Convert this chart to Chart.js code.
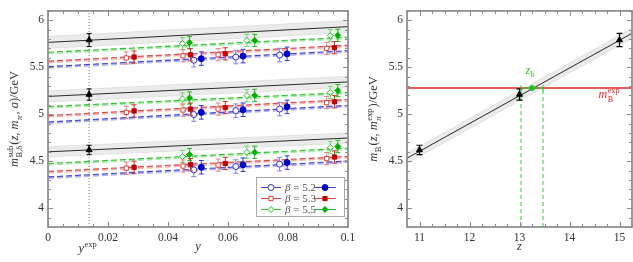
<!DOCTYPE html>
<html>
<head>
<meta charset="utf-8">
<script src="https://cdn.jsdelivr.net/npm/chart.js@4.4.0/dist/chart.umd.min.js"></script>
<style>
html, body { margin: 0; padding: 0; background: #fff; }
#wrap { position: relative; width: 633px; height: 262px; }
#leftBox { position: absolute; left: 0; top: 0; width: 362px; height: 262px; }
#rightBox { position: absolute; left: 355px; top: 0; width: 278px; height: 262px; }
</style>
</head>
<body>
<div id="wrap">
  <div id="leftBox"><canvas id="leftChart"></canvas></div>
  <div id="rightBox"><canvas id="rightChart"></canvas></div>
</div>
<script>
// ---- values ----
const zValues = [11, 13, 15];
const yExp = 0.0137;
const yRange = [3.8, 6.1];
const yTicks = [4, 4.5, 5, 5.5, 6];
const xTicksLeft = [0, 0.02, 0.04, 0.06, 0.08, 0.1];
const xTicksRight = [11, 12, 13, 14, 15];

// physical point (black triangles), one per z
const mPhys = [4.62, 5.21, 5.79];
const errPhys = [0.05, 0.06, 0.07];

// continuum lines: value at y = 0 and y = 0.1, per z
const yEnds = [0, 0.1];
const fitCont = [[4.600, 4.747], [5.190, 5.344], [5.765, 5.932]];
const bandCont = [0.055, 0.06, 0.065];

// beta = 5.2
const yB52open = [0.0486, 0.0626, 0.0772];
const yB52fill = [0.0511, 0.0650, 0.0797];
const mB52open = [[4.408, 4.443, 4.469], [4.997, 5.038, 5.055], [5.575, 5.609, 5.630]];
const mB52fill = [[4.436, 4.463, 4.486], [5.020, 5.048, 5.079], [5.592, 5.619, 5.643]];
const fitB52 = [[4.333, 4.503], [4.918, 5.096], [5.507, 5.677]];
const errB52 = 0.072;

// beta = 5.3
const yB53open = [0.0261, 0.0450, 0.0567, 0.0929];
const yB53fill = [0.0287, 0.0475, 0.0591, 0.0955];
const mB53open = [[4.426, 4.449, 4.459, 4.528], [5.020, 5.045, 5.055, 5.123], [5.599, 5.622, 5.633, 5.700]];
const mB53fill = [[4.436, 4.463, 4.476, 4.545], [5.035, 5.055, 5.071, 5.133], [5.609, 5.633, 5.643, 5.708]];
const fitB53 = [[4.392, 4.551], [4.987, 5.157], [5.565, 5.735]];
const errB53 = 0.065;

// beta = 5.5
const yB55open = [0.0448, 0.0663, 0.0941];
const yB55fill = [0.0472, 0.0689, 0.0966];
const mB55open = [[4.551, 4.596, 4.647], [5.163, 5.198, 5.232], [5.752, 5.786, 5.837]];
const mB55fill = [[4.571, 4.596, 4.657], [5.173, 5.201, 5.252], [5.762, 5.786, 5.840]];
const fitB55 = [[4.476, 4.640], [5.082, 5.232], [5.660, 5.820]];
const errB55 = 0.065;
const bandBeta = 0.012;

// right panel: interpolation in z
const zFitEnds = [10.75, 15.25];
const mFitEnds = [4.532, 5.861];
const bandFit = 0.055;
const mBexp = 5.279;
const zb = 13.25;
const zbRange = [13.03, 13.47];

// ---- helpers ----
const FONT = '"Liberation Serif", "DejaVu Serif", serif';
const font = (sz, it) => (it ? 'italic ' : '') + sz + 'px ' + FONT;

function line(xs, ys, color, width, dash, order) {
    return {
        data: xs.map((x, i) => ({ x: x, y: ys[i] })),
        showLine: true, borderColor: color, borderWidth: width,
        borderDash: dash || [], pointRadius: 0, fill: false, order: order
    };
}

function points(xs, ys, style, fillCol, edgeCol, err, errCol, order, radius) {
    return {
        data: xs.map((x, i) => ({ x: x, y: ys[i] })),
        showLine: false, pointStyle: style, pointRadius: radius || 3,
        pointBackgroundColor: fillCol, pointBorderColor: edgeCol, pointBorderWidth: 1,
        err: err, errColor: errCol, order: order
    };
}

function runRich(ctx, parts, x, y, size, draw) {
    let cx = x;
    const ss = size * 0.68;
    for (const p of parts) {
        if (p.t !== undefined) {
            ctx.font = font(size, p.i);
            if (draw) ctx.fillText(p.t, cx, y);
            cx += ctx.measureText(p.t).width;
        } else {
            let w = 0;
            if (p.sup) {
                ctx.font = font(ss, false);
                if (draw) ctx.fillText(p.sup, cx + 0.5, y - size * 0.42);
                w = Math.max(w, ctx.measureText(p.sup).width);
            }
            if (p.sub) {
                ctx.font = font(ss, p.subI);
                if (draw) ctx.fillText(p.sub, cx + 0.5, y + size * 0.28);
                w = Math.max(w, ctx.measureText(p.sub).width);
            }
            cx += w + 1.5;
        }
    }
    return cx - x;
}

function richCentered(ctx, parts, cx, y, size, color) {
    ctx.fillStyle = color;
    ctx.textAlign = 'left';
    ctx.textBaseline = 'alphabetic';
    const w = runRich(ctx, parts, 0, 0, size, false);
    runRich(ctx, parts, cx - w / 2, y, size, true);
}

// error bars, drawn under each dataset's markers
const errorBars = {
    id: 'errorBars',
    beforeDatasetDraw(chart, args) {
        const ds = chart.data.datasets[args.index];
        if (ds.err === undefined && ds.xerr === undefined) return;
        const { ctx, scales: { x, y } } = chart;
        ctx.save();
        ctx.strokeStyle = ds.errColor;
        ctx.lineWidth = 1;
        ds.data.forEach(p => {
            const px = x.getPixelForValue(p.x), py = y.getPixelForValue(p.y);
            ctx.beginPath();
            if (ds.err !== undefined) {
                const y1 = y.getPixelForValue(p.y - ds.err), y2 = y.getPixelForValue(p.y + ds.err);
                ctx.moveTo(px, y1); ctx.lineTo(px, y2);
                ctx.moveTo(px - 2.5, y1); ctx.lineTo(px + 2.5, y1);
                ctx.moveTo(px - 2.5, y2); ctx.lineTo(px + 2.5, y2);
            }
            if (ds.xerr !== undefined) {
                const x1 = x.getPixelForValue(ds.xerr[0]), x2 = x.getPixelForValue(ds.xerr[1]);
                ctx.moveTo(x1, py); ctx.lineTo(x2, py);
                ctx.moveTo(x1, py - 3); ctx.lineTo(x1, py + 3);
                ctx.moveTo(x2, py - 3); ctx.lineTo(x2, py + 3);
            }
            ctx.stroke();
        });
        ctx.restore();
    }
};

// grey frame with inward major and minor ticks on all sides
function framePlugin(minorX, minorY) {
    return {
        id: 'frame',
        afterDraw(chart) {
            const { ctx, chartArea: a, scales: { x, y } } = chart;
            ctx.save();
            ctx.strokeStyle = '#8c8c8c';
            ctx.lineWidth = 1;
            const isMajor = (scale, v) => scale.ticks.some(t => Math.abs(t.value - v) < 1e-9);
            ctx.beginPath();
            for (let n = Math.ceil(x.min / minorX - 1e-9); n * minorX <= x.max + 1e-9; n++) {
                const v = n * minorX, px = Math.round(x.getPixelForValue(v)) + 0.5;
                const len = isMajor(x, +v.toFixed(6)) ? 5 : 3;
                ctx.moveTo(px, a.bottom); ctx.lineTo(px, a.bottom - len);
                ctx.moveTo(px, a.top); ctx.lineTo(px, a.top + len);
            }
            for (let n = Math.ceil(y.min / minorY - 1e-9); n * minorY <= y.max + 1e-9; n++) {
                const v = n * minorY, py = Math.round(y.getPixelForValue(v)) + 0.5;
                const len = isMajor(y, +v.toFixed(6)) ? 5 : 3;
                ctx.moveTo(a.left, py); ctx.lineTo(a.left + len, py);
                ctx.moveTo(a.right, py); ctx.lineTo(a.right - len, py);
            }
            ctx.stroke();
            ctx.lineWidth = 1.8;
            ctx.strokeStyle = '#909090';
            ctx.strokeRect(a.left, a.top, a.right - a.left, a.bottom - a.top);
            ctx.restore();
        }
    };
}

function axes(xMin, xMax, xTicks, yWidth) {
    const tickFont = { family: FONT, size: 11.5 };
    const fmt = v => String(+(+v).toFixed(3));
    return {
        x: {
            type: 'linear', min: xMin, max: xMax,
            afterBuildTicks: s => { s.ticks = xTicks.map(v => ({ value: v })); },
            afterFit: s => { s.height = 35; },
            grid: { display: false, drawTicks: false }, border: { display: false },
            ticks: { font: tickFont, color: '#333', padding: 4, maxRotation: 0, autoSkip: false, callback: fmt }
        },
        y: {
            type: 'linear', min: yRange[0], max: yRange[1],
            afterBuildTicks: s => { s.ticks = yTicks.map(v => ({ value: v })); },
            afterFit: s => { s.width = yWidth; },
            grid: { display: false, drawTicks: false }, border: { display: false },
            ticks: { font: tickFont, color: '#333', padding: 4, autoSkip: false, callback: fmt }
        }
    };
}

const commonOpts = {
    responsive: true, maintainAspectRatio: false, animation: false, events: [],
    plugins: { legend: { display: false }, tooltip: { enabled: false } }
};

// ---- left panel ----
const betas = [
    { label: '5.2', yo: yB52open, yf: yB52fill, mo: mB52open, mf: mB52fill, fit: fitB52, err: errB52, style: 'circle',
      c: { mark: '#0000c0', open: '#3030cc', err: '#3838d0', errLight: '#8080e6', line: '#4040d4', light: 'rgba(120,120,235,0.55)' } },
    { label: '5.3', yo: yB53open, yf: yB53fill, mo: mB53open, mf: mB53fill, fit: fitB53, err: errB53, style: 'rect',
      c: { mark: '#c00000', open: '#d84040', err: '#d03030', errLight: '#e88080', line: '#d84848', light: 'rgba(235,120,120,0.55)' } },
    { label: '5.5', yo: yB55open, yf: yB55fill, mo: mB55open, mf: mB55fill, fit: fitB55, err: errB55, style: 'rectRot',
      c: { mark: '#00b000', open: '#20c020', err: '#20bb20', errLight: '#70d870', line: '#30c030', light: 'rgba(110,220,110,0.55)' } }
];

const leftDs = [];
zValues.forEach((z, g) => {
    const loIdx = leftDs.length;
    leftDs.push(line(yEnds, fitCont[g].map(v => v - bandCont[g]), 'rgba(0,0,0,0.13)', 0.6, [], 12));
    const hi = line(yEnds, fitCont[g].map(v => v + bandCont[g]), 'rgba(0,0,0,0.13)', 0.6, [], 12);
    hi.fill = loIdx;
    hi.backgroundColor = 'rgba(0,0,0,0.08)';
    leftDs.push(hi);
    leftDs.push(line(yEnds, fitCont[g], '#2a2a2a', 1, [], 9));
    betas.forEach(b => {
        leftDs.push(line(yEnds, b.fit[g].map(v => v - bandBeta), b.c.light, 2.2, [6, 3], 8));
        leftDs.push(line(yEnds, b.fit[g], b.c.line, 1.1, [6, 3], 7));
    });
    betas.forEach(b => {
        leftDs.push(points(b.yo, b.mo[g], b.style, '#fff', b.c.open, b.err, b.c.errLight, 2));
        leftDs.push(points(b.yf, b.mf[g], b.style, b.c.mark, b.c.mark, b.err, b.c.err, 1));
    });
    leftDs.push(points([yExp], [mPhys[g]], 'triangle', '#000', '#000', errPhys[g], '#000', 0, 3.5));
});
leftDs.push(line([yExp, yExp], yRange, '#777', 1, [1, 2], 11));

const leftText = {
    id: 'leftText',
    afterDraw(chart) {
        const { ctx, chartArea: a, scales: { x } } = chart;
        ctx.save();
        richCentered(ctx, [{ t: 'y', i: true }, { sup: 'exp' }], x.getPixelForValue(yExp) - 1, 252, 12.5, '#333');
        richCentered(ctx, [{ t: 'y', i: true }], (a.left + a.right) / 2, 250, 12.5, '#333');
        ctx.translate(14, (a.top + a.bottom) / 2);
        ctx.rotate(-Math.PI / 2);
        richCentered(ctx, [
            { t: 'm', i: true }, { sup: 'sub', sub: 'B,δ' },
            { t: '(' }, { t: 'z', i: true }, { t: ', ' }, { t: 'm', i: true }, { sub: 'π', subI: true },
            { t: ', ' }, { t: 'a', i: true }, { t: ')/GeV' }
        ], 0, 4, 12.5, '#333');
        ctx.restore();

        // legend box
        ctx.save();
        const bx = 256, by = 177, bw = 88, bh = 39;
        ctx.fillStyle = '#fff';
        ctx.fillRect(bx, by, bw, bh);
        ctx.strokeStyle = '#aaa';
        ctx.lineWidth = 1;
        ctx.strokeRect(bx + 0.5, by + 0.5, bw, bh);
        betas.forEach((b, i) => {
            const ry = 187.5 + i * 11;
            ctx.strokeStyle = b.c.line;
            ctx.beginPath();
            ctx.moveTo(261, ry); ctx.lineTo(281, ry);
            ctx.moveTo(314, ry); ctx.lineTo(336, ry);
            ctx.stroke();
            ctx.fillStyle = '#fff';
            ctx.strokeStyle = b.c.open;
            Chart.helpers.drawPoint(ctx, { pointStyle: b.style, radius: 3, borderWidth: 1, rotation: 0 }, 271, ry);
            ctx.fillStyle = b.c.mark;
            ctx.strokeStyle = b.c.mark;
            Chart.helpers.drawPoint(ctx, { pointStyle: b.style, radius: 3, borderWidth: 1, rotation: 0 }, 325, ry);
            ctx.fillStyle = '#555';
            ctx.textBaseline = 'middle';
            ctx.textAlign = 'left';
            ctx.font = font(11, true);
            ctx.fillText('β', 285, ry + 0.5);
            const w = ctx.measureText('β').width;
            ctx.font = font(11, false);
            ctx.fillText(' = ' + b.label, 285 + w, ry + 0.5);
        });
        ctx.restore();
    }
};

new Chart(document.getElementById('leftChart'), {
    type: 'scatter',
    data: { datasets: leftDs },
    options: Object.assign({}, commonOpts, {
        layout: { autoPadding: false, padding: { top: 1, right: 14, left: 0, bottom: 0 } },
        scales: axes(0, 0.1, xTicksLeft, 48)
    }),
    plugins: [errorBars, framePlugin(0.005, 0.1), leftText]
});

// ---- right panel ----
const rightDs = [];
rightDs.push(line(zFitEnds, mFitEnds.map(v => v - bandFit), 'rgba(0,0,0,0.13)', 0.6, [], 12));
const rHi = line(zFitEnds, mFitEnds.map(v => v + bandFit), 'rgba(0,0,0,0.13)', 0.6, [], 12);
rHi.fill = 0;
rHi.backgroundColor = 'rgba(0,0,0,0.08)';
rightDs.push(rHi);
rightDs.push(line(zFitEnds, mFitEnds, '#2a2a2a', 1, [], 9));
rightDs.push(line(zFitEnds, [mBexp, mBexp], '#e02828', 1.6, [], 8));
rightDs.push(line([zbRange[0], zbRange[0]], [yRange[0], mBexp], '#33c833', 1, [4, 3], 7));
rightDs.push(line([zbRange[1], zbRange[1]], [yRange[0], mBexp], '#33c833', 1, [4, 3], 7));
rightDs.push(points(zValues, mPhys, 'triangle', '#000', '#000', undefined, '#000', 1, 3.5));
rightDs[rightDs.length - 1].errs = errPhys;
const zbPoint = points([zb], [mBexp], 'circle', '#20c020', '#20c020', undefined, '#30c830', 0, 2.5);
zbPoint.xerr = zbRange;
rightDs.push(zbPoint);

// triangles on the right use one error per point
const errorBarsRight = {
    id: 'errorBarsRight',
    beforeDatasetDraw(chart, args) {
        const ds = chart.data.datasets[args.index];
        if (!ds.errs) return;
        const { ctx, scales: { x, y } } = chart;
        ctx.save();
        ctx.strokeStyle = '#000';
        ctx.lineWidth = 1.2;
        ds.data.forEach((p, i) => {
            const px = x.getPixelForValue(p.x);
            const y1 = y.getPixelForValue(p.y - ds.errs[i]), y2 = y.getPixelForValue(p.y + ds.errs[i]);
            ctx.beginPath();
            ctx.moveTo(px, y1); ctx.lineTo(px, y2);
            ctx.moveTo(px - 3, y1); ctx.lineTo(px + 3, y1);
            ctx.moveTo(px - 3, y2); ctx.lineTo(px + 3, y2);
            ctx.stroke();
        });
        ctx.restore();
    }
};

const rightText = {
    id: 'rightText',
    afterDraw(chart) {
        const { ctx, chartArea: a, scales: { x, y } } = chart;
        ctx.save();
        richCentered(ctx, [{ t: 'z', i: true }], (a.left + a.right) / 2, 250, 12.5, '#333');
        richCentered(ctx, [{ t: 'z', i: true }, { sub: 'b' }], x.getPixelForValue(13.22), y.getPixelForValue(5.43), 12, '#30c030');
        richCentered(ctx, [{ t: 'm', i: true }, { sup: 'exp', sub: 'B' }], x.getPixelForValue(14.8), y.getPixelForValue(5.17), 12, '#e02828');
        ctx.translate(18, (a.top + a.bottom) / 2);
        ctx.rotate(-Math.PI / 2);
        richCentered(ctx, [
            { t: 'm', i: true }, { sub: 'B' }, { t: '(' }, { t: 'z', i: true }, { t: ', ' },
            { t: 'm', i: true }, { sup: 'exp', sub: 'π', subI: true }, { t: ')/GeV' }
        ], 0, 4, 12.5, '#333');
        ctx.restore();
    }
};

new Chart(document.getElementById('rightChart'), {
    type: 'scatter',
    data: { datasets: rightDs },
    options: Object.assign({}, commonOpts, {
        layout: { autoPadding: false, padding: { top: 1, right: 1, left: 0, bottom: 0 } },
        scales: axes(zFitEnds[0], zFitEnds[1], xTicksRight, 52)
    }),
    plugins: [errorBars, errorBarsRight, framePlugin(0.25, 0.1), rightText]
});
</script>
</body>
</html>
